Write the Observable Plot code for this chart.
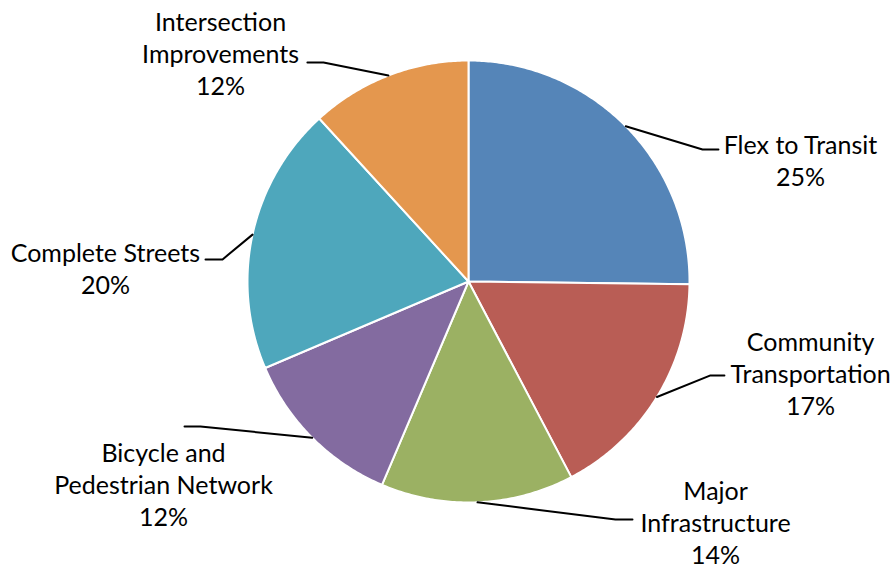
<!DOCTYPE html>
<html>
<head>
<meta charset="utf-8">
<script src="https://cdn.jsdelivr.net/npm/d3@7"></script>
<script src="https://cdn.jsdelivr.net/npm/@observablehq/plot@0.6"></script>
<style>
  html, body { margin: 0; padding: 0; background: #fff; }
  #chart svg { display: block; }
</style>
</head>
<body>
<div id="chart"></div>
<script>
// ---- data ----
const categories = ["Flex to Transit", "Community Transportation", "Major Infrastructure",
                    "Bicycle and Pedestrian Network", "Complete Streets", "Intersection Improvements"];
const shares = [25.2, 17.1, 14.1, 12.2, 19.6, 11.8];
const labelTexts = ["Flex to Transit\n25%", "Community\nTransportation\n17%", "Major\nInfrastructure\n14%",
                    "Bicycle and\nPedestrian Network\n12%", "Complete Streets\n20%", "Intersection\nImprovements\n12%"];
const colors = ["#5585B8", "#B95D55", "#9BB163", "#836BA0", "#4EA7BC", "#E4974E"];

// ---- layout (unit = pie radius) ----
const W = 896, H = 568, CX = 468, CY = 281, R = 221;
// leader elbow, leader end, label centre
const labelLayout = [
  {elbow: [1.059, 0.597],  end: [1.131, 0.597],  text: [1.502, 0.552]},
  {elbow: [1.095, -0.425], end: [1.158, -0.425], text: [1.548, -0.412]},
  {elbow: [0.665, -1.077], end: [0.742, -1.077], text: [1.118, -1.086]},
  {elbow: [-1.213, -0.656],end: [-1.285, -0.656],text: [-1.380, -0.914]},
  {elbow: [-1.113, 0.100], end: [-1.190, 0.100], text: [-1.643, 0.061]},
  {elbow: [-0.656, 0.991], end: [-0.729, 0.991], text: [-1.122, 1.036]}
];

// ---- geometry from data ----
const total = d3.sum(shares);
let cum = 0;
const slices = categories.map((name, i) => {
  const a0 = cum / total * 2 * Math.PI;
  cum += shares[i];
  const a1 = cum / total * 2 * Math.PI;
  return {name, a0, a1, mid: (a0 + a1) / 2, i};
});

const slicePts = [];
slices.forEach(s => {
  slicePts.push({name: s.name, x: 0, y: 0});
  const n = Math.max(2, Math.ceil((s.a1 - s.a0) / 0.01));
  for (let k = 0; k <= n; k++) {
    const a = s.a0 + (s.a1 - s.a0) * k / n;
    slicePts.push({name: s.name, x: Math.sin(a), y: Math.cos(a)});
  }
  slicePts.push({name: s.name, x: 0, y: 0});
});

const leaderPts = [];
slices.forEach((s, i) => {
  const L = labelLayout[i];
  leaderPts.push({name: s.name, x: Math.sin(s.mid), y: Math.cos(s.mid)});
  leaderPts.push({name: s.name, x: L.elbow[0], y: L.elbow[1]});
  leaderPts.push({name: s.name, x: L.end[0], y: L.end[1]});
});

const labels = slices.map((s, i) => ({text: labelTexts[i], x: labelLayout[i].text[0], y: labelLayout[i].text[1]}));

const chart = Plot.plot({
  width: W, height: H,
  margin: 0,
  style: {fontFamily: "Lato, 'Open Sans', sans-serif", background: "#fff"},
  x: {domain: [-CX / R, (W - CX) / R], range: [0, W], axis: null},
  y: {domain: [CY / R, -(H - CY) / R], range: [0, H], axis: null},
  color: {domain: categories, range: colors},
  marks: [
    Plot.line(slicePts, {x: "x", y: "y", z: "name", fill: "name", stroke: "#fff", strokeWidth: 2, strokeLinejoin: "round", curve: "linear"}),
    Plot.line(leaderPts, {x: "x", y: "y", z: "name", stroke: "#000", strokeWidth: 2, curve: "linear"}),
    Plot.text(labels, {x: "x", y: "y", text: "text", fontSize: 25, lineHeight: 1.28, fill: "#000", textAnchor: "middle", lineAnchor: "middle"})
  ]
});
document.getElementById("chart").appendChild(chart);
</script>
</body>
</html>
